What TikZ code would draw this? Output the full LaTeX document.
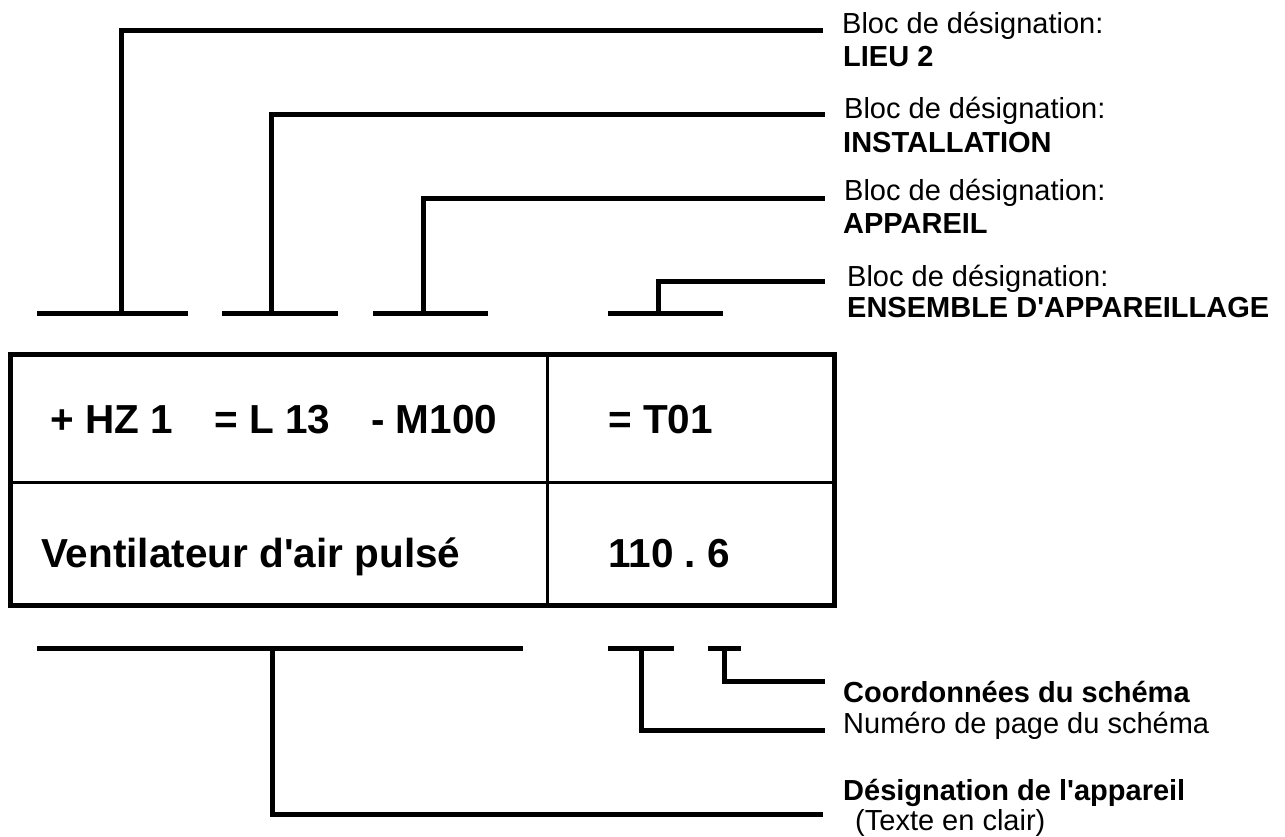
\documentclass[tikz,border=0pt]{standalone}
\usepackage{fontspec}
\newfontfamily\af{Liberation Sans}
\frenchspacing
\begin{document}
\begin{tikzpicture}[x=1pt,y=-1pt,
  conn/.style={line width=5pt, line join=miter},
  bar/.style={line width=5pt},
  frame/.style={line width=5pt},
  gridline/.style={line width=3pt},
  big/.style={inner sep=0pt, anchor=base west, font=\af\fontsize{40.5}{44}\selectfont\bfseries},
  lab/.style={inner sep=0pt, anchor=base west, font=\af\fontsize{29}{32}\selectfont},
  labb/.style={inner sep=0pt, anchor=base west, font=\af\fontsize{29}{32}\selectfont\bfseries}]
\useasboundingbox (0,0) rectangle (1285,836);

% ---------- table ----------
\coordinate (boxTL) at (10.5,354);
\coordinate (boxBR) at (834,605.5);
\coordinate (midL) at (10.5,482);
\coordinate (midR) at (834,482);
\coordinate (divT) at (547,354);
\coordinate (divB) at (547,605.5);
\draw[gridline] (midL) -- (midR);
\draw[gridline] (divT) -- (divB);
\draw[frame] (boxTL) rectangle (boxBR);

\node[big] (c1) at (50,433) {+ HZ 1};
\node[big] (c2) at (214,433) {= L 13};
\node[big] (c3) at (371,433) {- M100};
\node[big] (c4) at (608,433) {= T01};
\node[big] (c5) at (41,567) {Ventilateur d'air pulsé};
\node[big] (c6) at (608,567) {110 . 6};

% ---------- upper brackets ----------
\coordinate (b1a) at (37,313.5);  \coordinate (b1b) at (188,313.5);
\coordinate (b2a) at (222,313.5); \coordinate (b2b) at (338,313.5);
\coordinate (b3a) at (373,313.5); \coordinate (b3b) at (488,313.5);
\coordinate (b4a) at (608,313.5); \coordinate (b4b) at (723,313.5);
\draw[bar] (b1a) -- (b1b);
\draw[bar] (b2a) -- (b2b);
\draw[bar] (b3a) -- (b3b);
\draw[bar] (b4a) -- (b4b);

\coordinate (t1) at (121,313.5);
\coordinate (t2) at (271.5,313.5);
\coordinate (t3) at (423.5,313.5);
\coordinate (t4) at (658,313.5);
\coordinate (e1) at (823,30.5);
\coordinate (e2) at (825,114.5);
\coordinate (e3) at (825,198);
\coordinate (e4) at (825,281);
\draw[conn] (t1) |- (e1);
\draw[conn] (t2) |- (e2);
\draw[conn] (t3) |- (e3);
\draw[conn] (t4) |- (e4);

\node[lab]  (l1a) at (842,33)  {Bloc de désignation:};
\node[labb] (l1b) at (843,66)  {LIEU 2};
\node[lab]  (l2a) at (844,118) {Bloc de désignation:};
\node[labb] (l2b) at (843,152) {INSTALLATION};
\node[lab]  (l3a) at (844,200) {Bloc de désignation:};
\node[labb] (l3b) at (843,233) {APPAREIL};
\node[lab]  (l4a) at (847,286) {Bloc de désignation:};
\node[labb] (l4b) at (847,317) {ENSEMBLE D'APPAREILLAGE};

% ---------- lower brackets ----------
\coordinate (d1a) at (37,648);  \coordinate (d1b) at (523,648);
\coordinate (d2a) at (608,648); \coordinate (d2b) at (674,648);
\coordinate (d3a) at (708,648); \coordinate (d3b) at (741,648);
\draw[bar] (d1a) -- (d1b);
\draw[bar] (d2a) -- (d2b);
\draw[bar] (d3a) -- (d3b);

\coordinate (u1) at (272,648);
\coordinate (u2) at (641,648);
\coordinate (u3) at (724,648);
\coordinate (f1) at (823,814);
\coordinate (f2) at (825,730);
\coordinate (f3) at (825,681);
\draw[conn] (u1) |- (f1);
\draw[conn] (u2) |- (f2);
\draw[conn] (u3) |- (f3);

\node[labb] (m1) at (843,702) {Coordonnées du schéma};
\node[lab]  (m2) at (843,733) {Numéro de page du schéma};
\node[labb] (m3) at (843,800) {Désignation de l'appareil};
\node[lab]  (m4) at (855,830) {(Texte en clair)};
\end{tikzpicture}
\end{document}
